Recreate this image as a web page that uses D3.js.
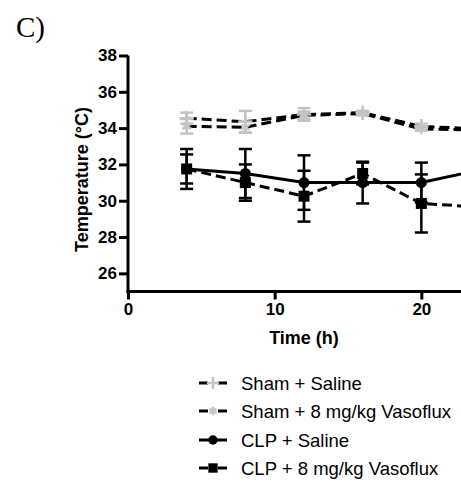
<!DOCTYPE html>
<html>
<head>
<meta charset="utf-8">
<script src="https://cdn.jsdelivr.net/npm/d3@7"></script>
<style>
  body { margin: 0; background: #fff; }
  svg { display: block; }
  text { font-family: Arial, "Liberation Sans", sans-serif; }
</style>
</head>
<body>
<svg id="chart" width="461" height="483"></svg>
<script>
// time points (h)
var times = [4, 8, 12, 16, 20, 24];

// group names
var seriesNames = ["Sham + Saline", "Sham + 8 mg/kg Vasoflux", "CLP + Saline", "CLP + 8 mg/kg Vasoflux"];

// mean temperature per group
var shamSaline = [34.55, 34.35, 34.75, 34.85, 34.1, 33.95];
var shamVaso   = [34.1, 34.05, 34.7, 34.8, 33.95, 33.9];
var clpSaline  = [31.75, 31.5, 31.0, 31.0, 31.0, 31.7];
var clpVaso    = [31.75, 31.0, 30.25, 31.5, 29.85, 29.65];

// error (sem)
var shamSalineErr = [0.3, 0.6, 0.35, 0.1, 0.15, 0.1];
var shamVasoErr   = [0.4, 0.3, 0.2, 0.1, 0.1, 0.1];
var clpSalineErr  = [0.8, 1.35, 1.5, 1.15, 1.1, 0.5];
var clpVasoErr    = [1.1, 1.0, 1.4, 0.6, 1.6, 0.8];

var yTicks = [26, 28, 30, 32, 34, 36, 38];
var xTicks = [0, 10, 20];

var svg = d3.select('#chart');
var x = d3.scaleLinear().domain([0, 24]).range([128, 480]);
var y = d3.scaleLinear().domain([25, 38]).range([291.5, 55.5]);

var gray = '#c4c4c4';
var series = [
	{ name: seriesNames[0], vals: shamSaline, err: shamSalineErr, dash: '10,5', color: gray, sym: 'plus' },
	{ name: seriesNames[1], vals: shamVaso, err: shamVasoErr, dash: '10,5', color: gray, sym: 'asterisk' },
	{ name: seriesNames[2], vals: clpSaline, err: clpSalineErr, dash: null, color: '#000', sym: 'circle' },
	{ name: seriesNames[3], vals: clpVaso, err: clpVasoErr, dash: '10,5', color: '#000', sym: 'square' }
];

// panel letter
svg.append('text').attr('x', 16).attr('y', 37)
	.style('font-family', '"Liberation Serif", "Times New Roman", serif')
	.attr('font-size', 29).text('C)');

// axes
var yAxis = svg.append('g').attr('transform', 'translate(' + x(0) + ',0)')
	.call(d3.axisLeft(y).tickValues(yTicks).tickSize(9).tickPadding(2).tickSizeOuter(0));
var xAxis = svg.append('g').attr('transform', 'translate(0,' + y(25) + ')')
	.call(d3.axisBottom(x).tickValues(xTicks).tickSize(8).tickPadding(3).tickSizeOuter(0));

[yAxis, xAxis].forEach(function (g) {
	g.select('.domain').attr('stroke-width', 3);
	g.selectAll('.tick line').attr('stroke-width', 3);
	g.selectAll('.tick text').attr('font-size', 17).attr('font-weight', 'bold')
		.style('font-family', 'Arial, "Liberation Sans", sans-serif').attr('fill', '#000');
});
yAxis.select('.domain').attr('d', 'M0,' + y(38) + 'V' + (y(25) + 1.5));
xAxis.select('.domain').attr('d', 'M' + (x(0) - 1.5) + ',0H' + x(24));

svg.append('text').attr('x', x(12)).attr('y', 344).attr('text-anchor', 'middle')
	.attr('font-size', 18).attr('font-weight', 'bold').text('Time (h)');
svg.append('text').attr('transform', 'translate(88,' + ((y(38) + y(25)) / 2 + 6) + ') rotate(-90)')
	.attr('text-anchor', 'middle').attr('font-size', 18).attr('font-weight', 'bold').text('Temperature (°C)');

function drawMarker(g, s, cx, cy, k) {
	k = k || 1;
	if (s.sym == 'circle') {
		g.append('circle').attr('cx', cx).attr('cy', cy).attr('r', 5.5 * k).attr('fill', s.color);
	} else if (s.sym == 'square') {
		var h = 5.5 * k;
		g.append('rect').attr('x', cx - h).attr('y', cy - h).attr('width', 2 * h).attr('height', 2 * h).attr('fill', s.color);
	} else {
		var type = s.sym == 'plus' ? d3.symbolPlus : d3.symbolAsterisk;
		g.append('path').attr('transform', 'translate(' + cx + ',' + cy + ')')
			.attr('d', d3.symbol().type(type).size(70 * k * k)())
			.attr('fill', 'none').attr('stroke', s.color).attr('stroke-width', 2.5);
	}
}

var line = d3.line().x(function (d, i) { return x(times[i]); }).y(function (d) { return y(d); });
var plot = svg.append('g');

// lines
series.forEach(function (s) {
	plot.append('path').datum(s.vals).attr('d', line)
		.attr('fill', 'none').attr('stroke', '#000').attr('stroke-width', 3)
		.attr('stroke-dasharray', s.dash);
});

// error bars
series.forEach(function (s) {
	var g = plot.append('g').attr('stroke', s.color).attr('stroke-width', 2.5);
	s.vals.forEach(function (v, i) {
		var cx = x(times[i]), lo = y(v - s.err[i]), hi = y(v + s.err[i]);
		g.append('line').attr('x1', cx).attr('x2', cx).attr('y1', lo).attr('y2', hi);
		g.append('line').attr('x1', cx - 6.5).attr('x2', cx + 6.5).attr('y1', lo).attr('y2', lo);
		g.append('line').attr('x1', cx - 6.5).attr('x2', cx + 6.5).attr('y1', hi).attr('y2', hi);
	});
});

// markers
series.forEach(function (s) {
	var g = plot.append('g');
	s.vals.forEach(function (v, i) { drawMarker(g, s, x(times[i]), y(v)); });
});

// legend
var legendY = [383, 411, 440, 468];
series.forEach(function (s, i) {
	var g = svg.append('g').attr('transform', 'translate(0,' + legendY[i] + ')');
	if (s.dash) {
		g.append('line').attr('x1', 199).attr('x2', 208).attr('y1', 0).attr('y2', 0).attr('stroke', '#000').attr('stroke-width', 3);
		g.append('line').attr('x1', 218).attr('x2', 227).attr('y1', 0).attr('y2', 0).attr('stroke', '#000').attr('stroke-width', 3);
	} else {
		g.append('line').attr('x1', 199).attr('x2', 227).attr('y1', 0).attr('y2', 0).attr('stroke', '#000').attr('stroke-width', 3);
	}
	drawMarker(g, s, 213, 0, 0.85);
	g.append('text').attr('x', 241).attr('y', 6.5).attr('font-size', 18.5).attr('fill', '#000').text(s.name);
});
</script>
</body>
</html>
